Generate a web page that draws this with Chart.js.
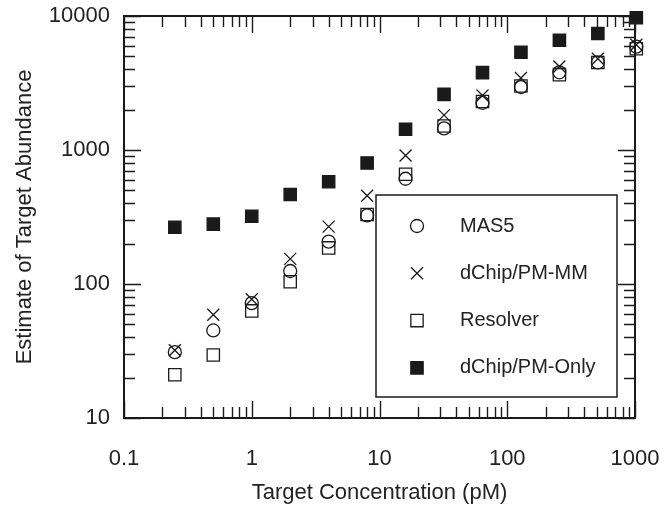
<!DOCTYPE html>
<html>
<head>
<meta charset="utf-8">
<script src="https://cdn.jsdelivr.net/npm/chart.js@4.4.0/dist/chart.umd.min.js"></script>
<style>
  html, body { margin: 0; padding: 0; background: #fff; }
  #wrap { width: 667px; height: 506px; }
</style>
</head>
<body>
<div id="wrap"><canvas id="chart" width="667" height="506"></canvas></div>
<script>
// target concentrations (pM)
var concentration = [0.25, 0.5, 1, 2, 4, 8, 16, 32, 64, 128, 256, 512, 1024];

// estimates of target abundance
var mas5 = [31, 45, 72, 125, 207, 325, 610, 1450, 2250, 2950, 3800, 4500, 5900];
var dchipPmMm = [32, 59, 77, 154, 268, 456, 910, 1820, 2550, 3450, 4200, 4800, 6100];
var resolver = [21, 29.5, 63, 104, 186, 330, 660, 1510, 2300, 3000, 3650, 4500, 5700];
var dchipPmOnly = [265, 280, 320, 465, 580, 800, 1430, 2600, 3780, 5360, 6600, 7400, 9700];

var seriesNames = ["MAS5", "dChip/PM-MM", "Resolver", "dChip/PM-Only"];

var xTickValues = [0.1, 1, 10, 100, 1000];
var yTickValues = [10, 100, 1000, 10000];

var ink = "#1a1a1a";
var fontFamily = "'Liberation Sans', Arial, Helvetica, sans-serif";

function toPoints(ys) {
  return ys.map(function (y, i) { return { x: concentration[i], y: y }; });
}

// frame, inward ticks on all four sides, and the boxed legend
var framePlugin = {
  id: "frame",
  afterDatasetsDraw: function (chart) {
    var ctx = chart.ctx;
    var a = chart.chartArea;
    var xs = chart.scales.x, ys = chart.scales.y;
    ctx.save();
    ctx.strokeStyle = ink;
    ctx.lineWidth = 1.4;
    ctx.beginPath();
    var e, m, v, p, len;
    for (e = -1; e <= 3; e++) {
      for (m = 1; m <= 9; m++) {
        v = m * Math.pow(10, e);
        if (v > 1000.0001) break;
        p = Math.round(xs.getPixelForValue(v)) + 0.5;
        len = m === 1 ? 17 : 11;
        ctx.moveTo(p, a.bottom); ctx.lineTo(p, a.bottom - len);
        ctx.moveTo(p, a.top); ctx.lineTo(p, a.top + len);
      }
    }
    for (e = 1; e <= 4; e++) {
      for (m = 1; m <= 9; m++) {
        v = m * Math.pow(10, e);
        if (v > 10000.0001) break;
        p = Math.round(ys.getPixelForValue(v)) + 0.5;
        len = m === 1 ? 17 : 11;
        ctx.moveTo(a.left, p); ctx.lineTo(a.left + len, p);
        ctx.moveTo(a.right, p); ctx.lineTo(a.right - len, p);
      }
    }
    ctx.stroke();
    ctx.lineWidth = 2;
    ctx.strokeRect(a.left, a.top, a.right - a.left, a.bottom - a.top);

    // legend box
    var box = { left: 376, top: 195, right: 617, bottom: 397 };
    ctx.fillStyle = "#fff";
    ctx.fillRect(box.left, box.top, box.right - box.left, box.bottom - box.top);
    ctx.lineWidth = 1.5;
    ctx.strokeRect(box.left, box.top, box.right - box.left, box.bottom - box.top);
    ctx.font = "20px " + fontFamily;
    ctx.textBaseline = "middle";
    ctx.textAlign = "left";
    chart.data.datasets.forEach(function (ds, i) {
      var cy = 226 + i * 47.3;
      ctx.lineWidth = ds.borderWidth;
      ctx.strokeStyle = ds.borderColor;
      ctx.fillStyle = ds.backgroundColor;
      Chart.helpers.drawPoint(ctx, {
        pointStyle: ds.pointStyle, radius: ds.pointRadius, rotation: 0, borderWidth: ds.borderWidth
      }, 417, cy);
      ctx.fillStyle = "#222";
      ctx.fillText(ds.label, 460, cy);
    });
    ctx.restore();
  }
};

function makeDataset(label, values, style, radius, fill) {
  return {
    label: label,
    data: toPoints(values),
    showLine: false,
    pointStyle: style,
    pointRadius: radius,
    pointHoverRadius: radius,
    borderWidth: 1.3,
    borderColor: ink,
    backgroundColor: fill
  };
}

new Chart(document.getElementById("chart"), {
  type: "scatter",
  data: {
    datasets: [
      makeDataset(seriesNames[0], mas5, "circle", 6.5, "rgba(0,0,0,0)"),
      makeDataset(seriesNames[1], dchipPmMm, "crossRot", 8.5, "rgba(0,0,0,0)"),
      makeDataset(seriesNames[2], resolver, "rect", 8.7, "rgba(0,0,0,0)"),
      makeDataset(seriesNames[3], dchipPmOnly, "rect", 8.7, ink)
    ]
  },
  options: {
    responsive: false,
    animation: false,
    clip: false,
    layout: { padding: { top: 16, right: 32, left: 0, bottom: 0 } },
    plugins: { legend: { display: false }, tooltip: { enabled: false } },
    scales: {
      x: {
        type: "logarithmic",
        position: "bottom",
        min: 0.1,
        max: 1000,
        grid: { display: false, drawTicks: false },
        border: { display: false },
        afterBuildTicks: function (s) { s.ticks = xTickValues.map(function (v) { return { value: v }; }); },
        afterFit: function (s) {
          s.height = 88;
          s.paddingLeft = 0; s.paddingRight = 0;
        },
        ticks: {
          autoSkip: false, maxRotation: 0, padding: 28, color: "#222",
          font: { size: 22, family: fontFamily },
          callback: function (v) { return String(v); }
        },
        title: {
          display: true, text: "Target Concentration (pM)", color: "#222",
          font: { size: 22, family: fontFamily }, padding: { top: 0, bottom: 0 }
        }
      },
      y: {
        type: "logarithmic",
        position: "left",
        min: 10,
        max: 10000,
        grid: { display: false, drawTicks: false },
        border: { display: false },
        afterBuildTicks: function (s) { s.ticks = yTickValues.map(function (v) { return { value: v }; }); },
        afterFit: function (s) {
          s.width = 124;
          s.paddingTop = 0; s.paddingBottom = 0;
        },
        ticks: {
          autoSkip: false, padding: 14, color: "#222",
          font: { size: 22, family: fontFamily },
          callback: function (v) { return String(v); }
        },
        title: {
          display: true, text: "Estimate of Target Abundance", color: "#222",
          font: { size: 22, family: fontFamily }, padding: { top: 12, bottom: 0 }
        }
      }
    }
  },
  plugins: [framePlugin]
});
</script>
</body>
</html>
